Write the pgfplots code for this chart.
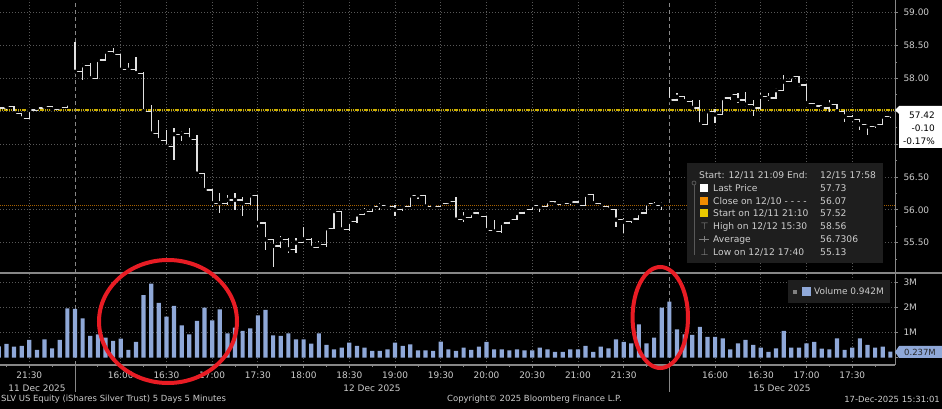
\documentclass[border=0pt]{standalone}
\usepackage{fontspec}
\setmainfont{DejaVu Sans}
\usepackage{pgfplots}
\pgfplotsset{compat=1.18}
\usepackage{pgfplotstable}

\definecolor{gridc}{RGB}{88,88,88}
\definecolor{txt}{RGB}{205,205,205}
\definecolor{pline}{RGB}{225,225,225}
\definecolor{ylw}{RGB}{205,175,0}
\definecolor{org}{RGB}{165,95,0}
\definecolor{volc}{RGB}{143,168,216}
\definecolor{redc}{RGB}{232,28,36}
\definecolor{sepc}{RGB}{135,135,135}
\definecolor{boxc}{RGB}{30,30,30}
\definecolor{sqorg}{RGB}{240,140,0}
\definecolor{sqylw}{RGB}{232,200,0}

% 11 Dec (x = 5-minute bar index, 0 = 12 Dec 15:30)
\pgfplotstableread{
x c h l
-10 57.55 57.58 57.52
-9 57.57 57.60 57.52
-8 57.47 57.57 57.46
-7 57.39 57.47 57.38
-6 57.52 57.53 57.39
-5 57.55 57.56 57.50
-4 57.57 57.60 57.53
-3 57.53 57.57 57.52
-2 57.56 57.58 57.52
-1 57.62 57.64 57.55
}\dayA

\pgfplotstableread{
x c h l
0 58.10 58.56 58.07
1 58.20 58.23 57.98
2 58.00 58.23 57.98
3 58.28 58.30 57.99
4 58.41 58.42 58.28
5 58.36 58.46 58.34
6 58.13 58.37 58.12
7 58.13 58.23 58.10
8 58.08 58.33 58.06
9 57.50 58.10 57.47
10 57.16 57.59 57.15
11 57.06 57.37 57.05
12 56.96 57.22 56.95
13 57.15 57.25 56.76
14 57.16 57.20 57.05
15 57.07 57.25 57.05
16 56.55 57.14 56.54
17 56.30 56.55 56.29
18 56.10 56.30 56.05
19 56.10 56.25 55.95
20 56.15 56.22 56.07
21 56.15 56.25 55.99
22 56.10 56.20 55.90
23 56.22 56.25 56.07
24 55.80 56.22 55.74
25 55.55 55.80 55.39
26 55.45 55.55 55.13
27 55.55 55.60 55.42
28 55.40 55.57 55.34
29 55.50 55.57 55.34
30 55.55 55.74 55.49
31 55.42 55.57 55.39
32 55.47 55.52 55.42
33 55.72 55.74 55.44
34 55.98 56.00 55.72
35 55.70 55.98 55.67
36 55.82 55.84 55.67
37 55.93 55.95 55.80
38 55.98 56.02 55.93
39 56.05 56.07 55.98
40 56.06 56.10 56.00
41 56.05 56.07 56.02
42 56.00 56.07 55.90
43 56.05 56.07 55.98
44 56.22 56.23 56.05
45 56.22 56.23 56.17
46 56.05 56.23 56.02
47 56.05 56.07 56.02
48 56.10 56.12 56.05
49 56.13 56.15 56.10
50 55.85 56.20 55.84
51 55.88 55.97 55.82
52 55.95 55.97 55.88
53 55.90 55.97 55.87
54 55.69 55.90 55.68
55 55.67 55.84 55.66
56 55.80 55.82 55.64
57 55.85 55.87 55.79
58 55.95 55.96 55.85
59 56.00 56.02 55.95
60 56.07 56.10 56.00
61 56.05 56.07 55.97
62 56.13 56.15 56.05
63 56.08 56.13 56.07
64 56.10 56.13 56.07
65 56.12 56.15 56.07
66 56.07 56.12 56.05
67 56.23 56.25 56.07
68 56.10 56.23 56.07
69 56.05 56.10 56.04
70 56.00 56.05 55.99
71 55.85 56.00 55.74
72 55.82 55.87 55.64
73 55.86 55.87 55.80
74 55.95 55.97 55.86
75 56.10 56.12 55.95
76 56.07 56.12 56.05
77 56.08 56.12 56.00
}\dayB

\pgfplotstableread{
x c h l
78 57.67 57.87 57.65
79 57.72 57.77 57.65
80 57.65 57.72 57.62
81 57.55 57.67 57.52
82 57.30 57.67 57.27
83 57.50 57.54 57.30
84 57.45 57.54 57.32
85 57.70 57.71 57.45
86 57.75 57.77 57.67
87 57.67 57.77 57.62
88 57.60 57.80 57.57
89 57.55 57.67 57.42
90 57.72 57.77 57.52
91 57.70 57.77 57.65
92 57.82 57.85 57.70
93 57.95 58.05 57.82
94 58.03 58.05 57.95
95 57.90 57.98 57.87
96 57.62 57.90 57.60
97 57.58 57.62 57.57
98 57.55 57.60 57.54
99 57.60 57.67 57.49
100 57.50 57.60 57.47
101 57.42 57.52 57.34
102 57.38 57.44 57.34
103 57.30 57.38 57.21
104 57.27 57.30 57.14
105 57.30 57.32 57.24
106 57.42 57.44 57.30
107 57.45 57.47 57.40
}\dayC

% volume in millions
\pgfplotstableread{
x v
-10 0.45
-9 0.55
-8 0.44
-7 0.47
-6 0.71
-5 0.31
-4 0.73
-3 0.37
-2 0.71
-1 1.97
0 1.95
1 1.57
2 0.87
3 0.93
4 0.80
5 0.67
6 0.76
7 0.31
8 0.63
9 2.50
10 2.96
11 2.19
12 1.64
13 2.07
14 1.29
15 0.93
16 1.47
17 2.00
18 1.49
19 1.93
20 0.97
21 1.20
22 1.07
23 1.17
24 1.69
25 1.91
26 0.89
27 0.87
28 0.97
29 0.73
30 0.73
31 0.56
32 0.97
33 0.51
34 0.33
35 0.40
36 0.60
37 0.47
38 0.40
39 0.27
40 0.27
41 0.33
42 0.60
43 0.47
44 0.53
45 0.29
46 0.29
47 0.27
48 0.64
49 0.33
50 0.27
51 0.40
52 0.31
53 0.44
54 0.63
55 0.33
56 0.33
57 0.29
58 0.33
59 0.29
60 0.29
61 0.40
62 0.33
63 0.23
64 0.23
65 0.33
66 0.33
67 0.47
68 0.23
69 0.44
70 0.37
71 0.73
72 0.63
73 0.57
74 1.33
75 0.57
76 0.80
77 2.00
78 2.24
79 1.13
80 0.93
81 0.91
82 1.23
83 0.83
84 0.83
85 0.77
86 0.33
87 0.57
88 0.71
89 0.51
90 0.40
91 0.23
92 0.37
93 1.07
94 0.40
95 0.40
96 0.57
97 0.63
98 0.36
99 0.33
100 0.77
101 0.31
102 0.40
103 0.77
104 0.51
105 0.40
106 0.44
107 0.237
}\vol

\pgfplotsset{bbg/.style={
  scale only axis, width=895bp,
  xmin=-9.843, xmax=107.61,
  axis line style={draw=none},
  xtick={-6,6,12,18,24,30,36,42,48,54,60,66,72,84,90,96,102},
  grid style={gridc, line width=0.8bp, dash pattern=on 1bp off 2bp},
  xmajorgrids, ymajorgrids,
  ytick pos=right, yticklabel pos=right, xtick pos=left,
  tick align=outside,
  major tick length=3bp, minor tick length=2bp,
  every tick/.append style={sepc, line width=0.8bp},
  ticklabel style={font=\fontsize{9}{10}\selectfont, text=txt},
  /pgf/number format/assume math mode=true,
}}

\begin{document}
\begin{tikzpicture}
\fill[black] (0bp,0bp) rectangle (942bp,409bp);
\path[use as bounding box] (0bp,0bp) rectangle (942bp,409bp);

% ---------------- price panel ----------------
\begin{axis}[bbg, at={(0bp,136bp)}, anchor=south west, height=273bp,
  ymin=55.038, ymax=59.193,
  ytick={55.5,56,56.5,57,57.5,58,58.5,59},
  yticklabels={55.50,56.00,56.50,,,58.00,58.50,59.00},
  minor ytick={55.25,55.75,56.25,56.75,57.25,57.75,58.25,58.75},
  xticklabels={}, xtick style={draw=none},
  yticklabel style={xshift=2bp},
]
  \draw[sepc, line width=0.9bp, dash pattern=on 4bp off 3bp] (axis cs:0,55.038) -- (axis cs:0,59.193);
  \draw[sepc, line width=0.9bp, dash pattern=on 4bp off 3bp] (axis cs:78,55.038) -- (axis cs:78,59.193);
  \addplot[org, line width=1.3bp, dash pattern=on 1bp off 1bp] coordinates {(-9.843,56.07) (107.61,56.07)};
  \addplot[ylw, line width=1.6bp, dash pattern=on 1.2bp off 0.6bp] coordinates {(-9.843,57.52) (107.61,57.52)};
  \addplot[pline, line width=1.2bp, const plot, mark=none] table[x=x,y=c]{\dayA};
  \addplot[pline, line width=1.2bp, const plot, mark=none] table[x=x,y=c]{\dayB};
  \addplot[pline, line width=1.2bp, const plot, mark=none] table[x=x,y=c]{\dayC};
  \addplot[only marks, mark=none, error bars/.cd, y dir=both, y explicit, error mark=none,
    error bar style={pline, line width=1.2bp}]
    table[x=x, y=c, y error plus expr=\thisrow{h}-\thisrow{c}, y error minus expr=\thisrow{c}-\thisrow{l}]{\dayA};
  \addplot[only marks, mark=none, error bars/.cd, y dir=both, y explicit, error mark=none,
    error bar style={pline, line width=1.2bp}]
    table[x=x, y=c, y error plus expr=\thisrow{h}-\thisrow{c}, y error minus expr=\thisrow{c}-\thisrow{l}]{\dayB};
  \addplot[only marks, mark=none, error bars/.cd, y dir=both, y explicit, error mark=none,
    error bar style={pline, line width=1.2bp}]
    table[x=x, y=c, y error plus expr=\thisrow{h}-\thisrow{c}, y error minus expr=\thisrow{c}-\thisrow{l}]{\dayC};
\end{axis}

% ---------------- volume panel ----------------
\begin{axis}[bbg, at={(0bp,44bp)}, anchor=south west, height=92bp,
  ymin=-0.3, ymax=3.38,
  ytick={1,2,3}, yticklabels={1M,2M,3M},
  extra y ticks={0}, extra y tick labels={}, extra y tick style={grid=none},
  yticklabel style={xshift=2bp},
  xticklabels={21:30,16:00,16:30,17:00,17:30,18:00,18:30,19:00,19:30,20:00,20:30,21:00,21:30,16:00,16:30,17:00,17:30},
  minor xtick={-9,-3,3,9,15,21,27,33,39,45,51,57,63,69,75,81,87,93,99,105},
  clip=false,
]
  \draw[sepc, line width=0.9bp, dash pattern=on 4bp off 3bp] (axis cs:0,-0.3) -- (axis cs:0,3.38);
  \draw[sepc, line width=0.9bp, dash pattern=on 4bp off 3bp] (axis cs:78,-0.3) -- (axis cs:78,3.38);
  \addplot[ybar, bar width=0.55, fill=volc, draw=none] table[x=x,y=v]{\vol};
  \draw[sepc, line width=1.3bp] (axis cs:-9.843,-0.3) -- (axis cs:107.61,-0.3);
  \draw[sepc, line width=0.9bp] (axis cs:0,-0.3) -- ++(0bp,-27bp);
  \draw[sepc, line width=0.9bp] (axis cs:78,-0.3) -- ++(0bp,-27bp);
\end{axis}

\begin{scope}[x=1bp,y=1bp]
  % frame lines
  \draw[sepc, line width=2.6bp] (0,136) -- (942,136);
  \draw[sepc, line width=1bp] (895,44) -- (895,409);

  % date labels and footer
  \begin{scope}[every node/.style={text=txt, inner sep=0pt, font=\fontsize{9}{10}\selectfont}]
    \node at (37,21) {11 Dec 2025};
    \node at (372,21) {12 Dec 2025};
    \node at (782,21) {15 Dec 2025};
  \end{scope}
  \begin{scope}[every node/.style={text=txt, inner sep=0pt, font=\fontsize{8.5}{10}\selectfont}]
    \node[anchor=west] at (1,10) {SLV US Equity (iShares Silver Trust) 5 Days 5 Minutes};
    \node[anchor=west] at (447,10) {Copyright© 2025 Bloomberg Finance L.P.};
    \node[anchor=east] at (940,10) {17-Dec-2025 15:31:01};
  \end{scope}

  % price legend box
  \fill[boxc] (687,146) rectangle (883,246);
  \draw[gridc, line width=0.8bp] (694,224) -- (694,154);
  \draw[gridc, line width=0.8bp] (694,226) circle (2);
  \begin{scope}[every node/.style={text=txt, inner sep=0pt, anchor=base west, font=\fontsize{9.2}{11}\selectfont}]
    \node at (699,230.5) {Start: 12/11 21:09 End:};
    \node at (820,230.5) {12/15 17:58};
    \fill[white] (700,217) rectangle (708,225);
    \node at (713,217.5) {Last Price};
    \node at (820,217.5) {57.73};
    \fill[sqorg] (700,204) rectangle (708,212);
    \node at (713,204.5) {Close on 12/10 - - - -};
    \node at (820,204.5) {56.07};
    \fill[sqylw] (700,192) rectangle (708,200);
    \node at (713,192.5) {Start on 12/11 21:10};
    \node at (820,192.5) {57.52};
    \node[text=gray] at (700.5,179.5) {⊤};
    \node at (713,179.5) {High on 12/12 15:30};
    \node at (820,179.5) {58.56};
    \draw[gray, line width=0.7bp] (699,170) -- (709,170);
    \draw[gray, line width=0.7bp] (704,167) -- (704,173);
    \node at (713,166.5) {Average};
    \node at (820,166.5) {56.7306};
    \node[text=gray] at (700.5,153.5) {⊥};
    \node at (713,153.5) {Low on 12/12 17:40};
    \node at (820,153.5) {55.13};
  \end{scope}

  % volume legend box
  \fill[boxc] (788,106) rectangle (890,129);
  \fill[gray] (793,115) rectangle (797,119);
  \fill[volc] (802,113) rectangle (811,122);
  \node[text=txt, inner sep=0pt, anchor=west, font=\fontsize{9}{10}\selectfont] at (814,117.5) {Volume 0.942M};

  % last price box
  \fill[white] (895,299) -- (899,303) -- (942,303) -- (942,261) -- (899,261) -- (899,295) -- cycle;
  \begin{scope}[every node/.style={text=black, inner sep=0pt, anchor=east, font=\fontsize{9}{10}\selectfont}]
    \node at (935,294) {57.42};
    \node at (935,281) {-0.10};
    \node at (935,268) {-0.17\%};
  \end{scope}

  % last volume box
  \fill[volc] (895,57) -- (899,63) -- (942,63) -- (942,51) -- (899,51) -- cycle;
  \node[text=black!85, inner sep=0pt, font=\fontsize{8.5}{10}\selectfont] at (920,57) {0.237M};

  % red annotation ellipses
  \draw[redc, line width=4bp] (168,87.5) ellipse [x radius=69bp, y radius=61.5bp];
  \draw[redc, line width=4bp] (660.3,91.5) ellipse [x radius=27.7bp, y radius=50.5bp];
\end{scope}
\end{tikzpicture}
\end{document}
